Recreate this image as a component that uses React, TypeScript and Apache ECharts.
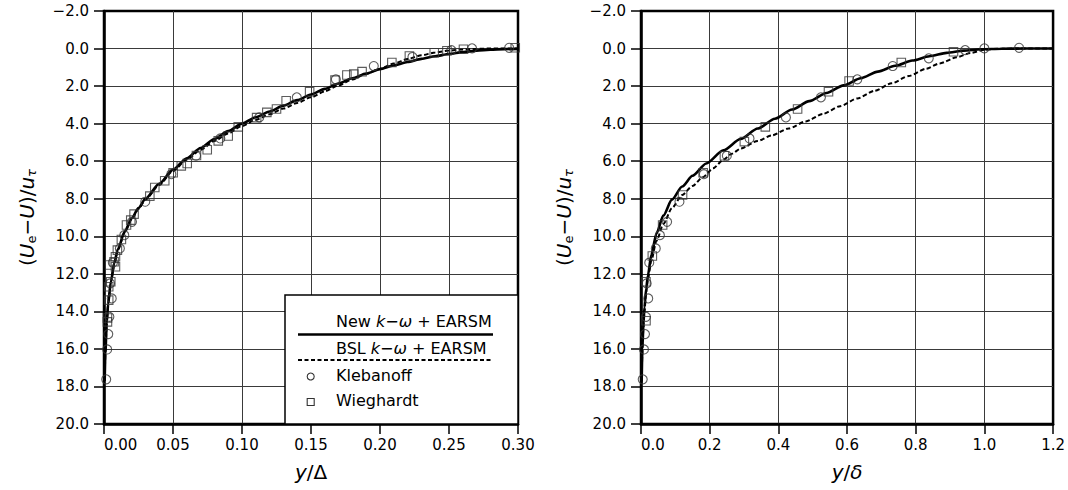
import React, { useEffect, useRef } from "react";
import * as echarts from "echarts";

const FONT = "DejaVu Sans";

// y axis ticks
const Y_MIN = -2;
const Y_MAX = 20;
const Y_STEP = 2;
// x axes
const X1_MIN = 0;
const X1_MAX = 0.3;
const X1_STEP = 0.05;
const X2_MIN = 0;
const X2_MAX = 1.2;
const X2_STEP = 0.2;

// ---- Left panel: y/Δ ----
const newKwLeft: [number, number][] = [
  [0.0005, 17.7], [0.001, 16.2], [0.002, 14.6], [0.003, 13.6], [0.005, 12.4],
  [0.0075, 11.4], [0.01, 10.7], [0.015, 9.75], [0.02, 9.05], [0.025, 8.5],
  [0.03, 8.0], [0.04, 7.2], [0.05, 6.45], [0.06, 5.85], [0.07, 5.3],
  [0.08, 4.82], [0.09, 4.4], [0.1, 4.0], [0.11, 3.66], [0.12, 3.35],
  [0.13, 3.04], [0.14, 2.75], [0.15, 2.45], [0.16, 2.15], [0.17, 1.86],
  [0.18, 1.58], [0.19, 1.33], [0.2, 1.1], [0.21, 0.9], [0.22, 0.72],
  [0.23, 0.55], [0.24, 0.41], [0.25, 0.29], [0.26, 0.19], [0.27, 0.11],
  [0.28, 0.06], [0.29, 0.03], [0.3, 0.02],
];
const bslKwLeft: [number, number][] = [
  [0.0005, 17.7], [0.001, 16.2], [0.002, 14.6], [0.003, 13.6], [0.005, 12.45],
  [0.0075, 11.45], [0.01, 10.75], [0.015, 9.8], [0.02, 9.1], [0.025, 8.55],
  [0.03, 8.05], [0.04, 7.27], [0.05, 6.52], [0.06, 5.92], [0.07, 5.4],
  [0.08, 4.93], [0.09, 4.52], [0.1, 4.13], [0.11, 3.8], [0.12, 3.5],
  [0.13, 3.2], [0.14, 2.9], [0.15, 2.6], [0.16, 2.28], [0.17, 1.96],
  [0.18, 1.65], [0.19, 1.35], [0.2, 1.07], [0.21, 0.8], [0.22, 0.56],
  [0.23, 0.36], [0.24, 0.21], [0.25, 0.11], [0.26, 0.05], [0.27, 0.02],
  [0.28, 0.0], [0.3, 0.0],
];
const klebanoffLeft: [number, number][] = [
  [0.0016, 17.62], [0.0023, 16.03], [0.0031, 15.21], [0.0039, 14.29], [0.0056, 13.31],
  [0.0044, 12.51], [0.0064, 11.41], [0.0115, 10.65], [0.0147, 9.94], [0.0203, 9.23],
  [0.0299, 8.16], [0.0488, 6.69], [0.0667, 5.71], [0.0843, 4.79], [0.1125, 3.67],
  [0.1397, 2.6], [0.168, 1.64], [0.1955, 0.93], [0.2235, 0.45], [0.2517, 0.08],
  [0.2667, -0.01], [0.2936, -0.04],
];
const wieghardtLeft: [number, number][] = [
  [0.0025, 14.56], [0.0025, 14.35], [0.0034, 13.4], [0.0034, 12.69], [0.0049, 12.42],
  [0.0041, 11.53], [0.0083, 11.62], [0.0073, 11.36], [0.0083, 11.09], [0.0097, 10.74],
  [0.0126, 10.17], [0.0163, 9.4], [0.0194, 9.14], [0.0218, 8.82], [0.0332, 7.86],
  [0.0368, 7.4], [0.044, 7.04], [0.0501, 6.62], [0.056, 6.25], [0.0603, 6.12],
  [0.067, 5.7], [0.0748, 5.39], [0.0828, 4.92], [0.09, 4.66], [0.0973, 4.17],
  [0.1106, 3.68], [0.118, 3.4], [0.125, 3.22], [0.132, 2.78], [0.149, 2.3],
  [0.1674, 1.68], [0.176, 1.41], [0.181, 1.36], [0.187, 1.23], [0.2086, 0.74],
  [0.2213, 0.4], [0.2393, 0.22], [0.2485, 0.12], [0.2605, 0.04], [0.298, -0.04],
];

// ---- Right panel: y/δ ----
const newKwRight: [number, number][] = [
  [0.002, 17.7], [0.004, 16.0], [0.007, 14.7], [0.01, 13.8], [0.015, 12.8],
  [0.02, 12.1], [0.03, 11.0], [0.045, 9.85], [0.065, 8.9], [0.09, 8.05],
  [0.12, 7.35], [0.15, 6.78], [0.19, 6.12], [0.24, 5.42], [0.29, 4.82],
  [0.34, 4.26], [0.39, 3.74], [0.44, 3.25], [0.49, 2.8], [0.54, 2.37],
  [0.59, 1.96], [0.64, 1.58], [0.69, 1.23], [0.74, 0.92], [0.79, 0.64],
  [0.84, 0.41], [0.89, 0.23], [0.94, 0.11], [0.99, 0.04], [1.05, 0.01],
  [1.12, 0.0], [1.2, 0.0],
];
const bslKwRight: [number, number][] = [
  [0.002, 17.8], [0.004, 16.1], [0.007, 14.9], [0.01, 14.0], [0.015, 13.0],
  [0.02, 12.3], [0.03, 11.3], [0.045, 10.25], [0.065, 9.35], [0.09, 8.5],
  [0.12, 7.8], [0.15, 7.32], [0.18, 6.85], [0.21, 6.38], [0.24, 5.92],
  [0.265, 5.6], [0.29, 5.33], [0.34, 4.92], [0.38, 4.63], [0.43, 4.26],
  [0.48, 3.88], [0.53, 3.48], [0.58, 3.07], [0.63, 2.66], [0.68, 2.25],
  [0.73, 1.85], [0.78, 1.46], [0.83, 1.08], [0.87, 0.79], [0.92, 0.46],
  [0.96, 0.23], [1.0, 0.07], [1.04, 0.01], [1.1, 0.0], [1.2, 0.0],
];
const klebanoffRight: [number, number][] = [
  [0.005, 17.62], [0.0087, 16.03], [0.0116, 15.21], [0.0145, 14.29], [0.021, 13.31],
  [0.0165, 12.51], [0.024, 11.41], [0.043, 10.65], [0.055, 9.94], [0.076, 9.23],
  [0.112, 8.16], [0.183, 6.69], [0.25, 5.71], [0.316, 4.79], [0.422, 3.67],
  [0.524, 2.6], [0.63, 1.64], [0.733, 0.93], [0.838, 0.52], [0.944, 0.08],
  [1.0, -0.01], [1.101, -0.04],
];
const wieghardtRight: [number, number][] = [
  [0.0145, 14.5], [0.0145, 12.42], [0.033, 11.05], [0.063, 9.4], [0.121, 7.8],
  [0.181, 6.62], [0.243, 5.71], [0.301, 4.96], [0.362, 4.17], [0.456, 3.22],
  [0.546, 2.3], [0.606, 1.73], [0.758, 0.74], [0.91, 0.17],
];

const LEGEND_NAMES = ["New k−ω + EARSM", "BSL k−ω + EARSM", "Klebanoff", "Wieghardt"];

const yFmt = (v: number) => (v < 0 ? "\u2212" : "") + Math.abs(v).toFixed(1);

const nameRich = {
  i: { fontStyle: "italic", fontSize: 20, fontFamily: FONT, color: "#000" },
  sub: { fontSize: 13, fontFamily: FONT, color: "#000", padding: [10, 0, 0, 0] },
  subi: { fontSize: 13, fontStyle: "italic", fontFamily: FONT, color: "#000", padding: [10, 0, 0, 0] },
};

const GRID_LINE = { color: "#3a3a3a", width: 1 };

function makeX(gridIndex: number, min: number, max: number, step: number, digits: number, name: string) {
  return {
    type: "value",
    gridIndex,
    min,
    max,
    interval: step,
    name,
    nameLocation: "middle",
    nameGap: 38,
    nameTextStyle: { fontSize: 20, fontFamily: FONT, color: "#000", rich: nameRich },
    axisLine: { show: true, onZero: false, lineStyle: { color: "#000", width: 2.5 } },
    axisTick: { show: true, inside: false, length: 10, lineStyle: { color: "#000", width: 1.5 } },
    axisLabel: {
      formatter: (v: number) => v.toFixed(digits),
      fontSize: 15,
      fontFamily: FONT,
      color: "#000",
      margin: 13,
      alignMinLabel: "left",
    },
    splitLine: { show: true, showMinLine: false, showMaxLine: false, lineStyle: GRID_LINE },
  };
}

function makeY(gridIndex: number) {
  return {
    type: "value",
    gridIndex,
    min: Y_MIN,
    max: Y_MAX,
    interval: Y_STEP,
    inverse: true,
    name: "({i|U}{sub|e}−{i|U})/{i|u}{subi|τ}",
    nameLocation: "middle",
    nameGap: 66,
    nameRotate: 90,
    nameTextStyle: { fontSize: 20, fontFamily: FONT, color: "#000", rich: nameRich },
    axisLine: { show: true, onZero: false, lineStyle: { color: "#000", width: 2.5 } },
    axisTick: { show: true, inside: false, length: 10, lineStyle: { color: "#000", width: 1.5 } },
    axisLabel: { formatter: yFmt, fontSize: 15, fontFamily: FONT, color: "#000", margin: 15 },
    splitLine: { show: true, showMinLine: false, showMaxLine: false, lineStyle: GRID_LINE },
  };
}

function lineSeries(name: string, idx: number, data: [number, number][], dashed: boolean) {
  return {
    name,
    type: "line",
    xAxisIndex: idx,
    yAxisIndex: idx,
    data,
    showSymbol: false,
    smooth: 0.25,
    smoothMonotone: "x",
    lineStyle: dashed ? { color: "#000", width: 2, type: [4.5, 2.5] } : { color: "#000", width: 2.6 },
    z: 3,
  };
}

function scatterSeries(name: string, idx: number, data: [number, number][], symbol: string, size: number) {
  return {
    name,
    type: "scatter",
    xAxisIndex: idx,
    yAxisIndex: idx,
    data,
    symbol,
    symbolSize: size,
    clip: false,
    itemStyle: { color: "transparent", borderColor: "#333", borderWidth: 1.1 },
    z: 4,
  };
}

export default function App() {
  const ref = useRef<HTMLDivElement>(null);
  useEffect(() => {
    document.body.style.margin = "0";
    const chart = echarts.init(ref.current!, null, { renderer: "svg" });
    const legendText = (text: string, x: number, y: number) => ({
      type: "text",
      left: x,
      top: y,
      z: 101,
      style: {
        text,
        fontSize: 16,
        fontFamily: FONT,
        fill: "#000",
        rich: {
          i: { fontStyle: "italic", fontSize: 16, fontFamily: FONT, fill: "#000" },
        },
      },
    });
    chart.setOption({
      animation: false,
      grid: [
        { left: 104, top: 11, width: 414, height: 413, show: true, borderColor: "#000", borderWidth: 2.5, containLabel: false },
        { left: 641, top: 11, width: 414, height: 413, show: true, borderColor: "#000", borderWidth: 2.5, containLabel: false },
      ],
      xAxis: [
        makeX(0, X1_MIN, X1_MAX, X1_STEP, 2, "{i|y}/Δ"),
        makeX(1, X2_MIN, X2_MAX, X2_STEP, 1, "{i|y}/{i|δ}"),
      ],
      yAxis: [makeY(0), makeY(1)],
      series: [
        lineSeries(LEGEND_NAMES[0], 0, newKwLeft, false),
        lineSeries(LEGEND_NAMES[1], 0, bslKwLeft, true),
        scatterSeries(LEGEND_NAMES[2], 0, klebanoffLeft, "circle", 9),
        scatterSeries(LEGEND_NAMES[3], 0, wieghardtLeft, "rect", 8.5),
        lineSeries(LEGEND_NAMES[0], 1, newKwRight, false),
        lineSeries(LEGEND_NAMES[1], 1, bslKwRight, true),
        scatterSeries(LEGEND_NAMES[2], 1, klebanoffRight, "circle", 9),
        scatterSeries(LEGEND_NAMES[3], 1, wieghardtRight, "rect", 8.5),
      ],
      graphic: [
        {
          type: "rect",
          z: 100,
          shape: { x: 285, y: 295, width: 233, height: 129 },
          style: { fill: "#fff", stroke: "#000", lineWidth: 1.5 },
        },
        legendText("New {i|k}−{i|ω} + EARSM", 336, 313),
        {
          type: "line",
          z: 101,
          shape: { x1: 298, y1: 334.5, x2: 493, y2: 334.5 },
          style: { stroke: "#000", lineWidth: 2.5 },
        },
        legendText("BSL {i|k}−{i|ω} + EARSM", 336, 340),
        {
          type: "line",
          z: 101,
          shape: { x1: 298, y1: 360, x2: 492, y2: 360 },
          style: { stroke: "#000", lineWidth: 2, lineDash: [4, 2.5] },
        },
        {
          type: "circle",
          z: 101,
          shape: { cx: 310.7, cy: 376.5, r: 3.5 },
          style: { fill: "none", stroke: "#333", lineWidth: 1.1 },
        },
        legendText("Klebanoff", 336, 367),
        {
          type: "rect",
          z: 101,
          shape: { x: 307.2, y: 398.5, width: 7, height: 7 },
          style: { fill: "none", stroke: "#333", lineWidth: 1.1 },
        },
        legendText("Wieghardt", 336, 392),
      ],
    });
    return () => chart.dispose();
  }, []);
  return <div ref={ref} style={{ width: 1068, height: 490 }} />;
}
